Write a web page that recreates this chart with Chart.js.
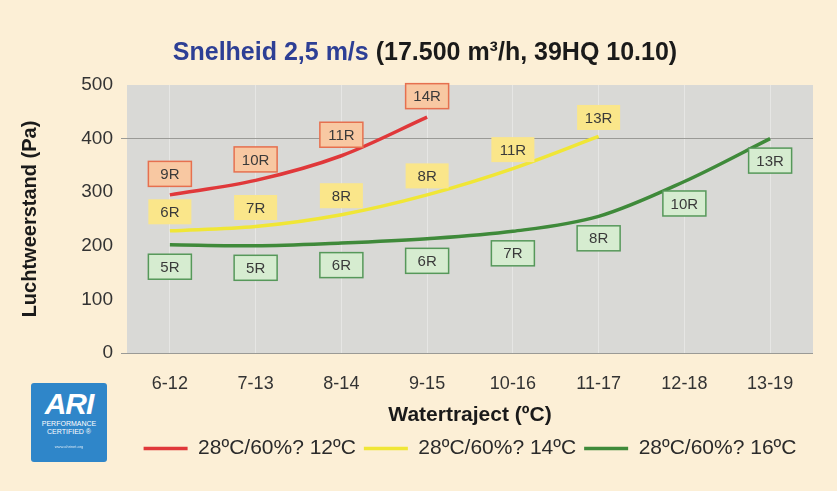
<!DOCTYPE html>
<html>
<head>
<meta charset="utf-8">
<script src="https://cdn.jsdelivr.net/npm/chart.js@4.4.1/dist/chart.umd.min.js"></script>
<style>
    html, body { margin: 0; padding: 0; background: #fcefd6; }
    #wrap { position: relative; width: 837px; height: 491px; }
    #logo {
        position: absolute; left: 31px; top: 383px; width: 76px; height: 79px;
        background: #2f86c9; border-radius: 3px; color: #fff;
        font-family: "Liberation Sans", Arial, sans-serif; text-align: center;
    }
    #logo .big { font-size: 30px; font-weight: bold; font-style: italic; line-height: 32px; margin-top: 5px; letter-spacing: -1px; }
    #logo .small { font-size: 7px; line-height: 8px; }
    #logo .tiny { font-size: 4px; margin-top: 8px; opacity: 0.8; }
</style>
</head>
<body>
<div id="wrap">
    <canvas id="chart" width="837" height="491"></canvas>
    <div id="logo">
        <div class="big">ARI</div>
        <div class="small">PERFORMANCE<br>CERTIFIED ®</div>
        <div class="tiny">www.ahrinet.org</div>
    </div>
</div>
<script>
// --- data ---
const categories = ['6-12', '7-13', '8-14', '9-15', '10-16', '11-17', '12-18', '13-19'];
const seriesNames = ['28ºC/60%? 12ºC', '28ºC/60%? 14ºC', '28ºC/60%? 16ºC'];
const red12 = [295, 322, 368, 440, null, null, null, null];
const yellow14 = [228, 236, 258, 295, 344, 404, null, null];
const green16 = [202, 200, 205, 213, 227, 255, 320, 400];
const redLabels = ['9R', '10R', '11R', '14R'];
const yellowLabels = ['6R', '7R', '8R', '8R', '11R', '13R'];
const greenLabels = ['5R', '5R', '6R', '6R', '7R', '8R', '10R', '13R'];
const yTicks = [0, 100, 200, 300, 400, 500];

const FONT = '"Liberation Sans", Arial, sans-serif';

// plot background
const plotBg = {
    id: 'plotBg',
    beforeDraw(chart) {
        const { ctx, chartArea: a } = chart;
        ctx.save();
        ctx.fillStyle = '#d9d9d6';
        ctx.fillRect(a.left, a.top, a.right - a.left, a.bottom - a.top);
        ctx.restore();
    }
};

// two-colour title
const mixedTitle = {
    id: 'mixedTitle',
    afterDraw(chart) {
        const ctx = chart.ctx;
        const p1 = 'Snelheid 2,5 m/s ';
        const p2 = '(17.500 m³/h, 39HQ 10.10)';
        ctx.save();
        ctx.font = 'bold 25px ' + FONT;
        ctx.textBaseline = 'middle';
        const w1 = ctx.measureText(p1).width;
        const w2 = ctx.measureText(p2).width;
        let x = 425 - (w1 + w2) / 2;
        ctx.fillStyle = '#2d3f95';
        ctx.fillText(p1, x, 53);
        ctx.fillStyle = '#1a1a1a';
        ctx.fillText(p2, x + w1, 53);
        ctx.restore();
    }
};

// boxed "xR" labels next to points
const boxLabels = {
    id: 'boxLabels',
    afterDatasetsDraw(chart) {
        const ctx = chart.ctx;
        ctx.save();
        ctx.font = '15px ' + FONT;
        ctx.textAlign = 'center';
        ctx.textBaseline = 'middle';
        chart.data.datasets.forEach((ds, i) => {
            const meta = chart.getDatasetMeta(i);
            const st = ds.boxStyle;
            ds.boxTexts.forEach((txt, j) => {
                const pt = meta.data[j];
                if (!pt || ds.data[j] == null) return;
                const cx = pt.x;
                const cy = pt.y + st.dy;
                const w = 43, h = 25;
                ctx.fillStyle = st.fill;
                ctx.fillRect(cx - w / 2, cy - h / 2, w, h);
                if (st.stroke) {
                    ctx.strokeStyle = st.stroke;
                    ctx.lineWidth = 1.5;
                    ctx.strokeRect(cx - w / 2, cy - h / 2, w, h);
                }
                ctx.fillStyle = '#3a3a3a';
                ctx.fillText(txt, cx, cy + 1);
            });
        });
        ctx.restore();
    }
};

new Chart(document.getElementById('chart'), {
    type: 'line',
    data: {
        labels: categories,
        datasets: [
            {
                label: seriesNames[0], data: red12, borderColor: '#e0383a', backgroundColor: '#e0383a', borderWidth: 3.5,
                boxTexts: redLabels, boxStyle: { dy: -21, fill: '#f8c8a2', stroke: '#e6704f' }
            },
            {
                label: seriesNames[1], data: yellow14, borderColor: '#f0e636', backgroundColor: '#f0e636', borderWidth: 3.5,
                boxTexts: yellowLabels, boxStyle: { dy: -19, fill: '#fae68a', stroke: null }
            },
            {
                label: seriesNames[2], data: green16, borderColor: '#3f8a3a', backgroundColor: '#3f8a3a', borderWidth: 3.5,
                boxTexts: greenLabels, boxStyle: { dy: 22, fill: '#d6ecd0', stroke: '#56985a' }
            }
        ]
    },
    options: {
        responsive: false,
        animation: false,
        layout: { padding: { top: 85, right: 24, bottom: 22, left: 14 } },
        elements: {
            line: { cubicInterpolationMode: 'monotone' },
            point: { radius: 0 }
        },
        plugins: {
            title: { display: false },
            tooltip: { enabled: false },
            legend: {
                position: 'bottom',
                fullSize: false,
                labels: {
                    usePointStyle: true,
                    pointStyle: 'line',
                    pointStyleWidth: 44,
                    boxWidth: 44,
                    padding: 8,
                    color: '#2a2a2a',
                    font: { family: FONT, size: 21 }
                }
            }
        },
        scales: {
            x: {
                offset: true,
                afterFit(scale) { scale.height = 77; },
                grid: { color: 'rgba(255,255,255,0.35)', drawTicks: false, offset: false },
                border: { display: false },
                ticks: { color: '#333', font: { family: FONT, size: 18 }, padding: 20 },
                title: { display: true, text: 'Watertraject (ºC)', color: '#1a1a1a', font: { family: FONT, size: 21, weight: 'bold' }, padding: { top: 6, bottom: 2 } }
            },
            y: {
                min: 0,
                max: 500,
                afterBuildTicks(scale) { scale.ticks = yTicks.map(v => ({ value: v })); },
                afterFit(scale) { scale.width = 113; },
                grid: {
                    drawTicks: true, tickLength: 6,
                    color: ctx => (ctx.tick && (ctx.tick.value === 400 || ctx.tick.value === 0)) ? '#9a9a96' : 'rgba(0,0,0,0)'
                },
                border: { display: false },
                ticks: { color: '#333', font: { family: FONT, size: 19 }, padding: 8 },
                title: { display: true, text: 'Luchtweerstand (Pa)', color: '#1a1a1a', font: { family: FONT, size: 20, weight: 'bold' }, padding: { bottom: 10 } }
            }
        }
    },
    plugins: [plotBg, mixedTitle, boxLabels]
});
</script>
</body>
</html>
